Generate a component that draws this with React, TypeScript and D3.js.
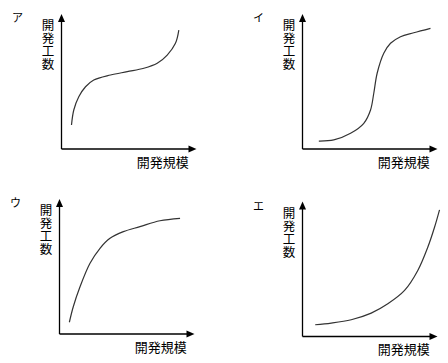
import React from "react";
import * as d3 from "d3";

const panelLabels = ["ア", "イ", "ウ", "エ"];
const yAxisTitle = "開発工数";
const xAxisTitle = "開発規模";

// curve values, in axis units 0..100 (x = 開発規模, y = 開発工数)
const curveA: [number, number][] = [
  [7.4, 17.8], [9.1, 28.9], [12.8, 38.7], [17.8, 46.1], [23.9, 51.1], [36.3, 54.8],
  [48.7, 57.3], [61, 59.8], [70.9, 63.5], [78.3, 69.6], [84.4, 78.3], [86.9, 88.1],
];
const curveI: [number, number][] = [
  [12.1, 5.9], [23.2, 6.7], [35.6, 11.6], [45.4, 19], [50.4, 28.9], [52.8, 41.3],
  [55.3, 56.1], [60.2, 70.9], [65.2, 78.3], [72.6, 83.2], [82.4, 86.1], [94.8, 89.4],
];
const curveU: [number, number][] = [
  [7.3, 8.7], [10.2, 20.2], [15.2, 35], [22.6, 52.4], [30, 63.5], [37.4, 70.9],
  [47.3, 75.8], [59.6, 79.5], [74.4, 83.9], [89.3, 85.7],
];
const curveE: [number, number][] = [
  [9.4, 8.7], [21.3, 9.9], [36.1, 12.4], [50.9, 17.3], [63.2, 24.2], [75.6, 34.1],
  [85.4, 48.9], [92.8, 66.1], [97.8, 80.9], [101.5, 93.8],
];
const curves = [curveA, curveI, curveU, curveE];

// panel layout: origin of axes
const origins: [number, number][] = [
  [61.5, 149],
  [302.5, 149],
  [59.5, 334],
  [302.5, 336.5],
];
const AX = 135;

function Panel({ idx }: { idx: number }) {
  const [ox, oy] = origins[idx];
  const x = d3.scaleLinear().domain([0, 100]).range([ox, ox + AX]);
  const y = d3.scaleLinear().domain([0, 100]).range([oy, oy - AX]);
  const line = d3
    .line<[number, number]>()
    .x((d) => x(d[0]))
    .y((d) => y(d[1]))
    .curve(d3.curveCatmullRom.alpha(0.5));
  const tipX = x(100);
  const tipY = y(100);
  const head = 8;
  const hw = 3.5;
  const top = tipY;
  return (
    <g>
      <line x1={x(0)} y1={y(0)} x2={tipX - head + 1} y2={y(0)} stroke="#000" strokeWidth={1.3} />
      <line x1={x(0)} y1={y(0)} x2={x(0)} y2={tipY + head - 1} stroke="#000" strokeWidth={1.3} />
      <polygon
        points={`${tipX},${y(0)} ${tipX - head},${y(0) - hw} ${tipX - head},${y(0) + hw}`}
        fill="#000"
      />
      <polygon
        points={`${x(0)},${tipY} ${x(0) - hw},${tipY + head} ${x(0) + hw},${tipY + head}`}
        fill="#000"
      />
      <path d={line(curves[idx]) || ""} fill="none" stroke="#333" strokeWidth={1.2} />
      <text
        x={x(0) - 13.5}
        y={top + 5}
        fontSize={12.5}
        fontFamily="'Noto Sans CJK JP'"
        fill="#000"
        style={{ writingMode: "vertical-rl", letterSpacing: "0.5px" }}
      >
        {yAxisTitle}
      </text>
      <text
        x={x(75)}
        y={y(0) + 12}
        textAnchor="middle"
        dominantBaseline="central"
        fontSize={13}
        fontFamily="'Noto Sans CJK JP'"
        fill="#000"
      >
        {xAxisTitle}
      </text>
      <text
        x={x(0) - 44}
        y={top + 3}
        textAnchor="middle"
        dominantBaseline="central"
        fontSize={11}
        fontFamily="'Noto Sans CJK JP'"
        fill="#000"
      >
        {panelLabels[idx]}
      </text>
    </g>
  );
}

export default function App() {
  return (
    <svg
      width={448}
      height={363}
      style={{ position: "absolute", left: 0, top: 0, background: "#fff" }}
    >
      <rect width={448} height={363} fill="#fff" />
      {[0, 1, 2, 3].map((i) => (
        <Panel key={i} idx={i} />
      ))}
    </svg>
  );
}
